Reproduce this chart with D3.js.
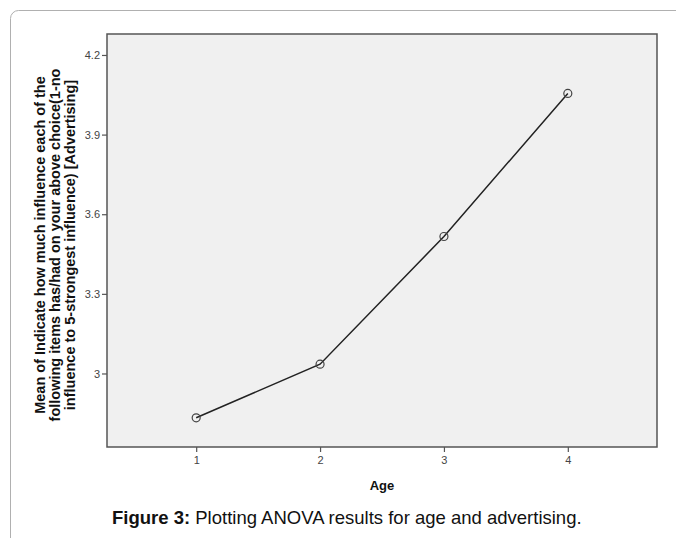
<!DOCTYPE html>
<html>
<head>
<meta charset="utf-8">
<script src="https://cdn.jsdelivr.net/npm/d3@7"></script>
<style>
    body { margin: 0; background: #fff; }
    svg { display: block; font-family: "Liberation Sans", Arial, sans-serif; }
</style>
</head>
<body>
<div id="chart"></div>
<script>
// Data
const ages = [1, 2, 3, 4];
const means = [2.833, 3.035, 3.516, 4.055];
const yTicks = [3, 3.3, 3.6, 3.9, 4.2];
const yTickLabels = ['3', '3.3', '3.6', '3.9', '4.2'];
const yLabelLines = [
    'Mean of Indicate how much influence each of the',
    'following items has/had on your above choice(1-no',
    'influence to 5-strongest influence) [Advertising]'
];

const W = 676, H = 538;
const plot = { left: 107, top: 34, right: 657, bottom: 447 };

const svg = d3.select('#chart').append('svg')
    .attr('width', W)
    .attr('height', H);

// outer frame with rounded corner
svg.append('rect')
    .attr('x', 10.5).attr('y', 10.5)
    .attr('width', 700).attr('height', 600)
    .attr('rx', 8)
    .attr('fill', 'none')
    .attr('stroke', '#b0b0b0')
    .attr('stroke-width', 1);

// scales
const x = d3.scaleLinear().domain([0.28, 4.72]).range([plot.left, plot.right]);
const y = d3.scaleLinear().domain([2.723, 4.279]).range([plot.bottom, plot.top]);

// plot background
svg.append('rect')
    .attr('x', plot.left).attr('y', plot.top)
    .attr('width', plot.right - plot.left)
    .attr('height', plot.bottom - plot.top)
    .attr('fill', '#f0f0f0')
    .attr('stroke', '#555')
    .attr('stroke-width', 1.5);

// axes
const yAxis = svg.append('g')
    .attr('transform', `translate(${plot.left},0)`)
    .call(d3.axisLeft(y).tickValues(yTicks).tickSize(5).tickPadding(2)
        .tickFormat((d, i) => yTickLabels[i]));

const xAxis = svg.append('g')
    .attr('transform', `translate(0,${plot.bottom})`)
    .call(d3.axisBottom(x).tickValues(ages).tickSize(5).tickPadding(4)
        .tickFormat(d3.format('d')));

[yAxis, xAxis].forEach(g => {
    g.select('.domain').remove();
    g.selectAll('.tick line').attr('stroke', '#555').attr('stroke-width', 1.2);
    g.selectAll('.tick text')
        .attr('fill', '#444')
        .style('font-size', '11px')
        .style('font-family', '"Liberation Sans", Arial, sans-serif');
});

// line
const line = d3.line()
    .x((d, i) => x(ages[i]))
    .y(d => y(d));

svg.append('path')
    .datum(means)
    .attr('fill', 'none')
    .attr('stroke', '#222')
    .attr('stroke-width', 1.5)
    .attr('d', line);

// markers
svg.selectAll('circle.pt')
    .data(means)
    .enter()
    .append('circle')
    .attr('class', 'pt')
    .attr('cx', (d, i) => x(ages[i]))
    .attr('cy', d => y(d))
    .attr('r', 4)
    .attr('fill', 'none')
    .attr('stroke', '#444')
    .attr('stroke-width', 1.2);

// y axis title (three rotated lines)
const yTitle = svg.append('text')
    .attr('transform', `translate(45,245) rotate(-90)`)
    .attr('text-anchor', 'middle')
    .style('font-size', '14.5px')
    .style('font-weight', 'bold')
    .attr('fill', '#111');

yLabelLines.forEach((t, i) => {
    yTitle.append('tspan')
        .attr('x', 0)
        .attr('dy', i === 0 ? 0 : 15)
        .text(t);
});

// x axis title
svg.append('text')
    .attr('x', 382)
    .attr('y', 490)
    .attr('text-anchor', 'middle')
    .style('font-size', '13px')
    .style('font-weight', 'bold')
    .attr('fill', '#111')
    .text('Age');

// caption
const caption = svg.append('text')
    .attr('x', 112)
    .attr('y', 524)
    .style('font-size', '18.5px')
    .attr('fill', '#111');
caption.append('tspan').style('font-weight', 'bold').text('Figure 3:');
caption.append('tspan').text(' Plotting ANOVA results for age and advertising.');
</script>
</body>
</html>
